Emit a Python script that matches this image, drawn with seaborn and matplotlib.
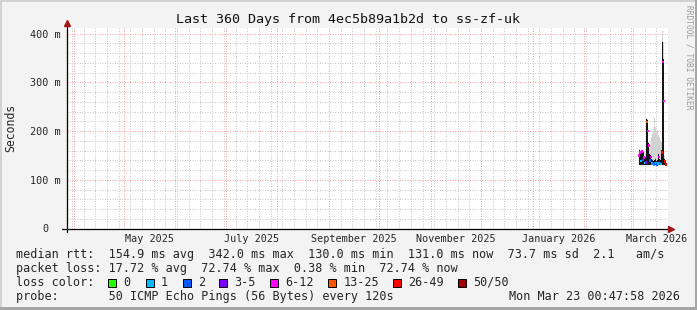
import numpy as np
import pandas as pd
import matplotlib
matplotlib.use("Agg")
import matplotlib.pyplot as plt
import matplotlib.dates as mdates
from matplotlib.patches import Rectangle
from matplotlib.ticker import MultipleLocator
import seaborn as sns

sns.set_style("white")
plt.rcParams['font.family'] = ['DejaVu Sans Mono']

# ---------------- data ----------------
title = "Last 360 Days from 4ec5b89a1b2d to ss-zf-uk"
y_label = "Seconds"
range_start = "2025-03-28 00:47:58"
range_end = "2026-03-23 00:47:58"

sample_start = "2026-03-05 14:00"
sample_step = "864min"   # one consolidated step
median_ms = [150, 156, 138, 158, 141, 146, 134, 135, 218, 200, 170, 140, 147, 133,
             132, 131, 133, 134, 131, 133, 147, 134, 132, 156, 342, 262, 137, 131]
smoke_lo_ms = [130, 130, 130, 130, 130, 131, 130, 130, 130, 130, 130, 130, 130, 130,
               130, 130, 130, 130, 130, 130, 130, 130, 130, 130, 130, 130, 130, 129]
smoke_hi_ms = [158, 162, 152, 162, 155, 156, 145, 146, 224, 222, 175, 152, 150, 142,
               140, 138, 140, 142, 139, 141, 152, 142, 140, 162, 382, 348, 142, 134]
smoke_top_ms = [160, 164, 154, 164, 157, 158, 148, 150, 226, 224, 178, 165, 172, 188,
                194, 205, 226, 208, 198, 202, 192, 188, 182, 178, 405, 382, 148, 136]
loss_pings = [8, 8, 1, 8, 2, 8, 1, 4, 15, 8, 8, 2, 8, 1,
              2, 1, 2, 1, 2, 1, 8, 2, 1, 30, 8, 8, 36, 36]

loss_labels = ["0", "1", "2", "3-5", "6-12", "13-25", "26-49", "50/50"]
loss_upper = [0, 1, 2, 5, 12, 25, 49, 50]
loss_colors = ["#26ff00", "#00b8ff", "#0059ff", "#7e00ff", "#ff00ff", "#ff5500", "#ff0000", "#a10000"]

y_ticks = [0, 100, 200, 300, 400]
y_tick_labels = ["0", "100 m", "200 m", "300 m", "400 m"]
label_months = ["2025-05", "2025-07", "2025-09", "2025-11", "2026-01", "2026-03"]
x_tick_labels = ["May 2025", "July 2025", "September 2025", "November 2025", "January 2026", "March 2026"]

row_rtt = "median rtt:  154.9 ms avg  342.0 ms max  130.0 ms min  131.0 ms now  73.7 ms sd  2.1   am/s"
row_loss = "packet loss: 17.72 % avg  72.74 % max  0.38 % min  72.74 % now"
row_color = "loss color:"
row_probe = "probe:       50 ICMP Echo Pings (56 Bytes) every 120s"
stamp = "Mon Mar 23 00:47:58 2026"
watermark = "RRDTOOL / TOBI OETIKER"

# ---------------- figure ----------------
W, H = 697, 310
fig = plt.figure(figsize=(W / 100, H / 100), dpi=100, facecolor="#f3f3f3")

# frame
fig.add_artist(Rectangle((0, 1 - 2 / H), 1, 2 / H, transform=fig.transFigure, color="#d2d2d2", lw=0))
fig.add_artist(Rectangle((0, 0), 2 / W, 1, transform=fig.transFigure, color="#d2d2d2", lw=0))
fig.add_artist(Rectangle((0, 0), 1, 3 / H, transform=fig.transFigure, color="#a6a6a6", lw=0))
fig.add_artist(Rectangle((1 - 2 / W, 0), 2 / W, 1, transform=fig.transFigure, color="#a6a6a6", lw=0))

x0, y0, pw, ph = 67, 228.5, 601, 200.8
ax = fig.add_axes([x0 / W, (H - y0) / H, pw / W, ph / H])
ax.set_facecolor("white")

t0 = pd.Timestamp(range_start)
t1 = pd.Timestamp(range_end)
ax.set_xlim(mdates.date2num(t0), mdates.date2num(t1))
ax.set_ylim(0, 412)

times = pd.date_range(sample_start, periods=len(median_ms), freq=sample_step)
cls = [next(i for i, u in enumerate(loss_upper) if l <= u) for l in loss_pings]
df = pd.DataFrame({"t": times, "median": median_ms, "lo": smoke_lo_ms,
                   "hi": smoke_hi_ms, "top": smoke_top_ms,
                   "cls": [loss_labels[c] for c in cls]})

ax.fill_between(df["t"], df["lo"], df["top"], step="mid", color="#d2d2d2", lw=0,
                antialiased=False, zorder=2)
ax.fill_between(df["t"], df["lo"], df["hi"], step="mid", color="#151515", lw=0,
                antialiased=False, zorder=3)
sns.scatterplot(data=df, x="t", y="median", hue="cls", hue_order=loss_labels,
                palette=dict(zip(loss_labels, loss_colors)), marker="s", s=3.2,
                linewidth=0, legend=False, ax=ax, zorder=4)
ax.set_xlim(mdates.date2num(t0), mdates.date2num(t1))
ax.set_xlabel("")
ax.set_ylabel("")

# grid
ax.xaxis.set_major_locator(mdates.MonthLocator())
ax.xaxis.set_minor_locator(mdates.WeekdayLocator(byweekday=mdates.MO))
ax.yaxis.set_major_locator(MultipleLocator(100))
ax.yaxis.set_minor_locator(MultipleLocator(20))
ax.set_axisbelow(True)
ax.grid(which="major", color="#f4a0a0", lw=0.72, ls=(0, (1, 1.5)))
ax.grid(which="minor", color="#c8c8c8", lw=0.72, ls=(0, (1, 1.5)))
ax.tick_params(axis="x", which="both", length=0, labelbottom=False)
ax.set_yticks(y_ticks)
ax.set_yticklabels(y_tick_labels)
ax.tick_params(axis="y", which="major", length=4, direction="inout", width=0.7,
               color="#333333", labelsize=7.3, pad=13.5)
ax.tick_params(axis="y", which="minor", length=2.2, direction="out", width=0.7, color="#555555")
for lbl in ax.get_yticklabels():
    lbl.set_horizontalalignment("center")
for s in ax.spines.values():
    s.set_visible(False)

# axis lines + arrows
ax.plot([-5 / pw, 1.003], [0, 0], transform=ax.transAxes, color="black", lw=0.9, clip_on=False, zorder=5)
ax.plot([0, 0], [-3 / ph, 1.02], transform=ax.transAxes, color="black", lw=0.9, clip_on=False, zorder=5)
ax.plot([1 + 3.2 / pw], [0], marker=">", ms=4.2, color="#a01818", transform=ax.transAxes, clip_on=False, zorder=6)
ax.plot([0], [1 + 5 / ph], marker="^", ms=4.2, color="#a01818", transform=ax.transAxes, clip_on=False, zorder=6)

# month labels centred in month
sec = ax.secondary_xaxis("bottom")
mids = []
for m in label_months:
    ms_ = pd.Timestamp(m + "-01")
    mids.append(mdates.date2num(ms_ + pd.Timedelta(days=ms_.days_in_month / 2)))
sec.set_xticks(mids)
sec.set_xticklabels(x_tick_labels)
sec.tick_params(length=0, pad=4, labelsize=7.3)
for s in sec.spines.values():
    s.set_visible(False)

# texts
fig.text(347.5 / W, 1 - 19.5 / H, title, ha="center", va="center", fontsize=9.6, color="#111111")
fig.text(11 / W, 1 - 128 / H, y_label, rotation=90, ha="center", va="center", fontsize=8.3)
fig.text(689.5 / W, 1 - 57 / H, watermark, rotation=270, ha="center", va="center",
         fontsize=5.7, color="#999999")

fs = 8.5
rows_y = [254.3, 268.3, 282.3, 296.2]
fig.text(16 / W, 1 - rows_y[0] / H, row_rtt, ha="left", va="center", fontsize=fs)
fig.text(16 / W, 1 - rows_y[1] / H, row_loss, ha="left", va="center", fontsize=fs)
fig.text(16 / W, 1 - rows_y[2] / H, row_color, ha="left", va="center", fontsize=fs)
fig.text(16 / W, 1 - rows_y[3] / H, row_probe, ha="left", va="center", fontsize=fs)
fig.text(680 / W, 1 - rows_y[3] / H, stamp, ha="right", va="center", fontsize=fs)

sq_x = [108.3, 145.7, 182.7, 219.3, 270, 328.3, 393.3, 458.3]
for x, lab, col in zip(sq_x, loss_labels, loss_colors):
    fig.add_artist(Rectangle((x / W, (H - rows_y[2] - 4.5) / H), 8 / W, 8 / H,
                             transform=fig.transFigure, facecolor=col, edgecolor="black", lw=0.7))
    fig.text((x + 15) / W, 1 - rows_y[2] / H, lab, ha="left", va="center", fontsize=fs)

fig.savefig("out.png", dpi=100, facecolor=fig.get_facecolor())
